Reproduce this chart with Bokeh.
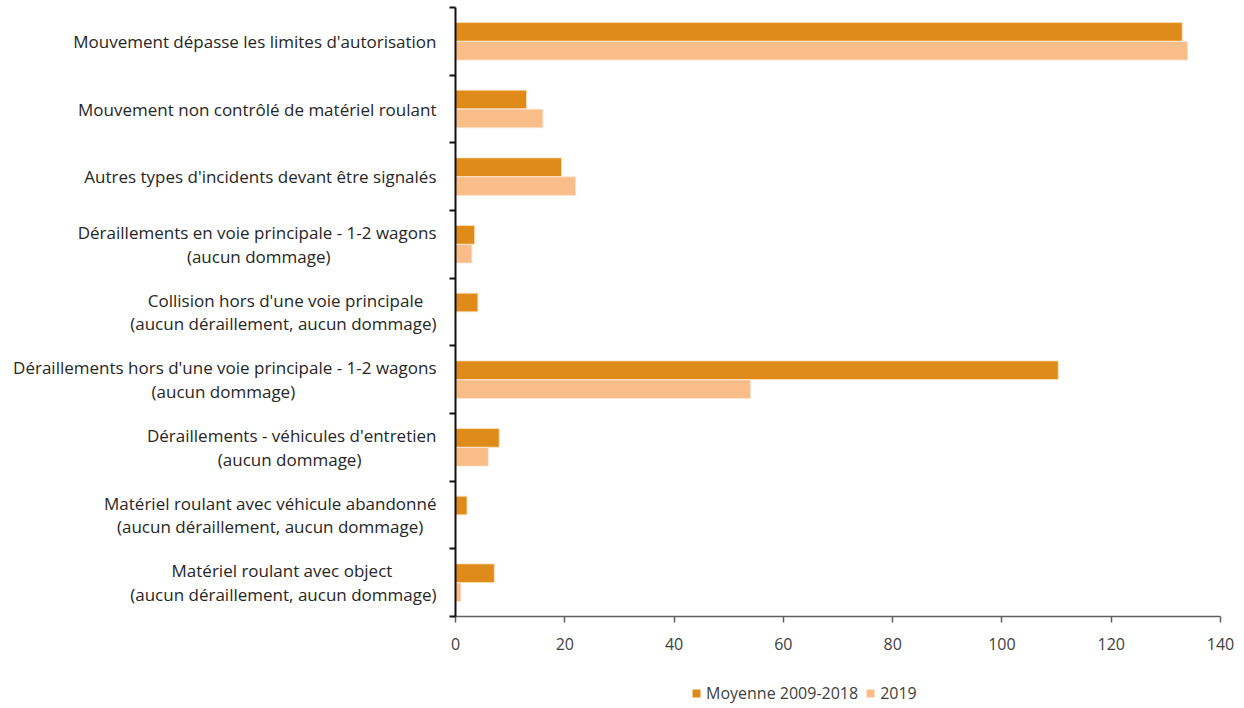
from bokeh.plotting import figure
from bokeh.layouts import column
from bokeh.models import ColumnDataSource, FixedTicker, Legend, LegendItem, Range1d, LinearAxis
from bokeh.embed import file_html
from bokeh.resources import INLINE
import numpy as np

categories = [
    "Mouvement dépasse les limites d'autorisation",
    "Mouvement non contrôlé de matériel roulant",
    "Autres types d'incidents devant être signalés",
    "Déraillements en voie principale - 1-2 wagons\n(aucun dommage)",
    "Collision hors d'une voie principale\n(aucun déraillement, aucun dommage)",
    "Déraillements hors d'une voie principale - 1-2 wagons\n(aucun dommage)",
    "Déraillements - véhicules d'entretien\n(aucun dommage)",
    "Matériel roulant avec véhicule abandonné\n(aucun déraillement, aucun dommage)",
    "Matériel roulant avec object\n(aucun déraillement, aucun dommage)",
]
moyenne = [133, 13, 19.4, 3.5, 4.1, 110.3, 8, 2.1, 7.1]
an2019 = [134, 16, 22, 3, 0, 54, 6, 0, 1]
series_names = ["Moyenne 2009-2018", "2019"]
x_ticks = [0, 20, 40, 60, 80, 100, 120, 140]

DARK = "#DE8B1A"
LIGHT = "#F8BD89"
FONT = "Open Sans"
LABEL_PX = 17

# approximate Open Sans advance widths (units per em = 2048), used only to
# centre the lines of the two-line tick labels on each other
_W = dict(zip("abcdefghijklmnopqrstuvwxyz",
              [1139, 1255, 975, 1255, 1149, 694, 1122, 1257, 518, 518, 1075, 518, 1905,
               1257, 1237, 1255, 1255, 836, 977, 723, 1257, 1026, 1593, 1073, 1028, 977]))
_W.update({" ": 532, "\u00a0": 532, "é": 1149, "ê": 1149, "ô": 1237, "à": 1139,
           "A": 1296, "C": 1292, "D": 1481, "M": 1819, "-": 659, "(": 545, ")": 545,
           ",": 502, "'": 362})
for d in "0123456789":
    _W[d] = 1171


def text_width(s):
    return sum(_W.get(ch, 1150) for ch in s) / 2048 * LABEL_PX


def centre_lines(label):
    lines = label.split("\n")
    if len(lines) == 1:
        return label
    widths = [text_width(l) for l in lines]
    wmax = max(widths)
    nb = text_width("\u00a0")
    out = [l + "\u00a0" * int(round((wmax - w) / 2 / nb)) for l, w in zip(lines, widths)]
    return "\n".join(out)


n = len(categories)
centers = n - np.arange(n) - 0.5  # first category at the top

src = ColumnDataSource(dict(
    y1=centers + 0.14, y2=centers - 0.14, m=moyenne, a=an2019,
))

W = 1236
p = figure(width=W, height=674, output_backend="svg", toolbar_location=None,
           x_range=Range1d(0, 140), y_range=Range1d(0, n),
           min_border_left=455, min_border_right=16, min_border_top=7,
           min_border_bottom=58, y_axis_location=None)
p.outline_line_color = None
p.xgrid.visible = False
p.ygrid.visible = False

p.hbar(y="y1", right="m", left=0, height=0.275, source=src,
       fill_color=DARK, line_color="#FBE0BE", line_width=0.8)
p.hbar(y="y2", right="a", left=0, height=0.275, source=src,
       fill_color=LIGHT, line_color="#FDE6D2", line_width=0.8)

yaxis = LinearAxis(
    ticker=FixedTicker(ticks=list(centers), minor_ticks=list(range(n + 1))),
    major_label_overrides={float(c): centre_lines(lab) for c, lab in zip(centers, categories)},
)
yaxis.axis_line_color = "#111111"
yaxis.axis_line_width = 2
yaxis.major_tick_line_color = None
yaxis.major_tick_out = 0
yaxis.major_tick_in = 0
yaxis.minor_tick_line_color = "#111111"
yaxis.minor_tick_line_width = 2
yaxis.minor_tick_out = 6
yaxis.minor_tick_in = 0
yaxis.major_label_text_font = FONT
yaxis.major_label_text_font_size = f"{LABEL_PX}px"
yaxis.major_label_text_line_height = 1.04
yaxis.major_label_text_color = "#262626"
yaxis.major_label_standoff = 13
p.add_layout(yaxis, "left")

xa = p.xaxis[0]
xa.ticker = FixedTicker(ticks=x_ticks)
xa.axis_line_color = "#5f5f5f"
xa.axis_line_width = 1.5
xa.major_tick_line_color = "#5f5f5f"
xa.major_tick_line_width = 1.5
xa.major_tick_out = 6
xa.major_tick_in = 0
xa.minor_tick_line_color = None
xa.major_label_text_font = FONT
xa.major_label_text_font_size = "16px"
xa.major_label_text_color = "#404040"
xa.major_label_standoff = 15

# legend strip below the chart (its frame is aligned with the chart's frame);
# the two swatch renderers sit outside its visible range
lg = figure(width=W, height=30, output_backend="svg", toolbar_location=None,
            x_range=Range1d(0, 1), y_range=Range1d(0, 1), min_border=0,
            x_axis_location=None, y_axis_location=None)
lg.outline_line_color = None
lg.xgrid.visible = False
lg.ygrid.visible = False
lr1 = lg.hbar(y=[-10], right=[1], left=0, height=0.3, fill_color=DARK, line_color=None)
lr2 = lg.hbar(y=[-10], right=[1], left=0, height=0.3, fill_color=LIGHT, line_color=None)
legend = Legend(items=[LegendItem(label=series_names[0], renderers=[lr1]),
                       LegendItem(label=series_names[1], renderers=[lr2])],
                orientation="horizontal", location=(236, 0),
                glyph_width=10, glyph_height=10, label_standoff=5, spacing=7,
                padding=0, margin=0, border_line_color=None,
                background_fill_alpha=0,
                label_text_font=FONT, label_text_font_size="16px",
                label_text_color="#404040")
lg.add_layout(legend, "center")

open("out.html", "w").write(file_html(column(p, lg, spacing=0), INLINE))
